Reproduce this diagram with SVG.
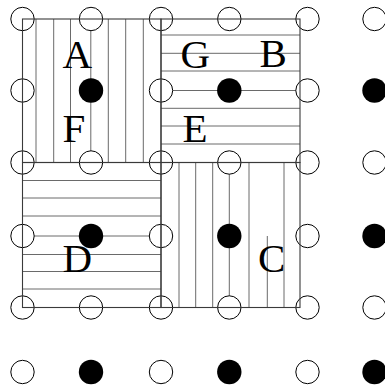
<svg xmlns="http://www.w3.org/2000/svg" width="385" height="387" viewBox="0 0 385 387">
<style>
.h{stroke:#6a6a6a;stroke-width:1;fill:none}
.b{stroke:#3a3a3a;stroke-width:1.1;fill:none}
.o{fill:#fff;stroke:#000;stroke-width:1}
.d{fill:#000}
.t{font-family:"Liberation Serif","Times New Roman",serif;font-size:41px;fill:#000}
</style>
<rect width="385" height="387" fill="#fff"/>
<g id="hatching">
<g id="hatch-A">
<path class="h" d="M36 19V162.5M53.7 19V162.5M70.5 19V162.5M90.8 19V162.5M108.3 19V162.5M125.7 19V162.5M143.3 19V162.5"/>
</g>
<g id="hatch-B">
<path class="h" d="M161 35H300M161 53.3H300M161 71H300M161 90.5H300M161 108.3H300M161 126H300M161 144H300"/>
</g>
<g id="hatch-D">
<path class="h" d="M22.5 180.5H161M22.5 198H161M22.5 216H161M22.5 236H161M22.5 254.5H161M22.5 271.5H161M22.5 289H161"/>
</g>
<g id="hatch-C">
<path class="h" d="M179 162.5V307.5M195.7 162.5V307.5M212.7 162.5V307.5M229.3 162.5V307.5M249 162.5V307.5M267.3 236V307.5M284 162.5V307.5"/>
</g>
</g>
<g id="points">
<g id="open">
<circle class="o" cx="22.5" cy="19" r="11.7"/><circle class="o" cx="91" cy="19" r="11.7"/><circle class="o" cx="161" cy="19" r="11.7"/><circle class="o" cx="229.3" cy="19" r="11.7"/><circle class="o" cx="307.5" cy="19" r="11.7"/><circle class="o" cx="374.5" cy="19" r="11.7"/>
<circle class="o" cx="22.5" cy="90.5" r="11.7"/><circle class="o" cx="161" cy="90.5" r="11.7"/><circle class="o" cx="307.5" cy="90.5" r="11.7"/>
<circle class="o" cx="22.5" cy="162.5" r="11.7"/><circle class="o" cx="91" cy="162.5" r="11.7"/><circle class="o" cx="161" cy="162.5" r="11.7"/><circle class="o" cx="229.3" cy="162.5" r="11.7"/><circle class="o" cx="307.5" cy="162.5" r="11.7"/><circle class="o" cx="374.5" cy="162.5" r="11.7"/>
<circle class="o" cx="22.5" cy="236" r="11.7"/><circle class="o" cx="161" cy="236" r="11.7"/><circle class="o" cx="307.5" cy="236" r="11.7"/>
<circle class="o" cx="22.5" cy="307.5" r="11.7"/><circle class="o" cx="91" cy="307.5" r="11.7"/><circle class="o" cx="161" cy="307.5" r="11.7"/><circle class="o" cx="229.3" cy="307.5" r="11.7"/><circle class="o" cx="307.5" cy="307.5" r="11.7"/><circle class="o" cx="374.5" cy="307.5" r="11.7"/>
<circle class="o" cx="22.5" cy="372" r="11.7"/><circle class="o" cx="161" cy="372" r="11.7"/><circle class="o" cx="307.5" cy="372" r="11.7"/>
</g>
<g id="filled">
<circle class="d" cx="91" cy="90.5" r="12.2"/><circle class="d" cx="229.3" cy="90.5" r="12.2"/><circle class="d" cx="374.5" cy="90.5" r="12.2"/>
<circle class="d" cx="91" cy="236" r="12.2"/><circle class="d" cx="229.3" cy="236" r="12.2"/><circle class="d" cx="374.5" cy="236" r="12.2"/>
<circle class="d" cx="91" cy="372" r="12.2"/><circle class="d" cx="229.3" cy="372" r="12.2"/><circle class="d" cx="374.5" cy="372" r="12.2"/>
</g>
</g>
<g id="borders">
<rect id="region-A" class="b" x="22.5" y="19" width="138.5" height="143.5"/>
<rect id="region-B" class="b" x="161" y="19" width="139" height="143.5"/>
<rect id="region-D" class="b" x="22.5" y="162.5" width="138.5" height="145"/>
<rect id="region-C" class="b" x="161" y="162.5" width="139" height="145"/>
</g>
<g id="labels">
<text class="t" x="62.5" y="68">A</text>
<text class="t" x="62.5" y="141.5">F</text>
<text class="t" x="180.5" y="67.5">G</text>
<text class="t" x="259.5" y="67">B</text>
<text class="t" x="182.5" y="141.5">E</text>
<text class="t" x="62.5" y="271.5">D</text>
<text class="t" x="258" y="271.5">C</text>
</g>
</svg>
